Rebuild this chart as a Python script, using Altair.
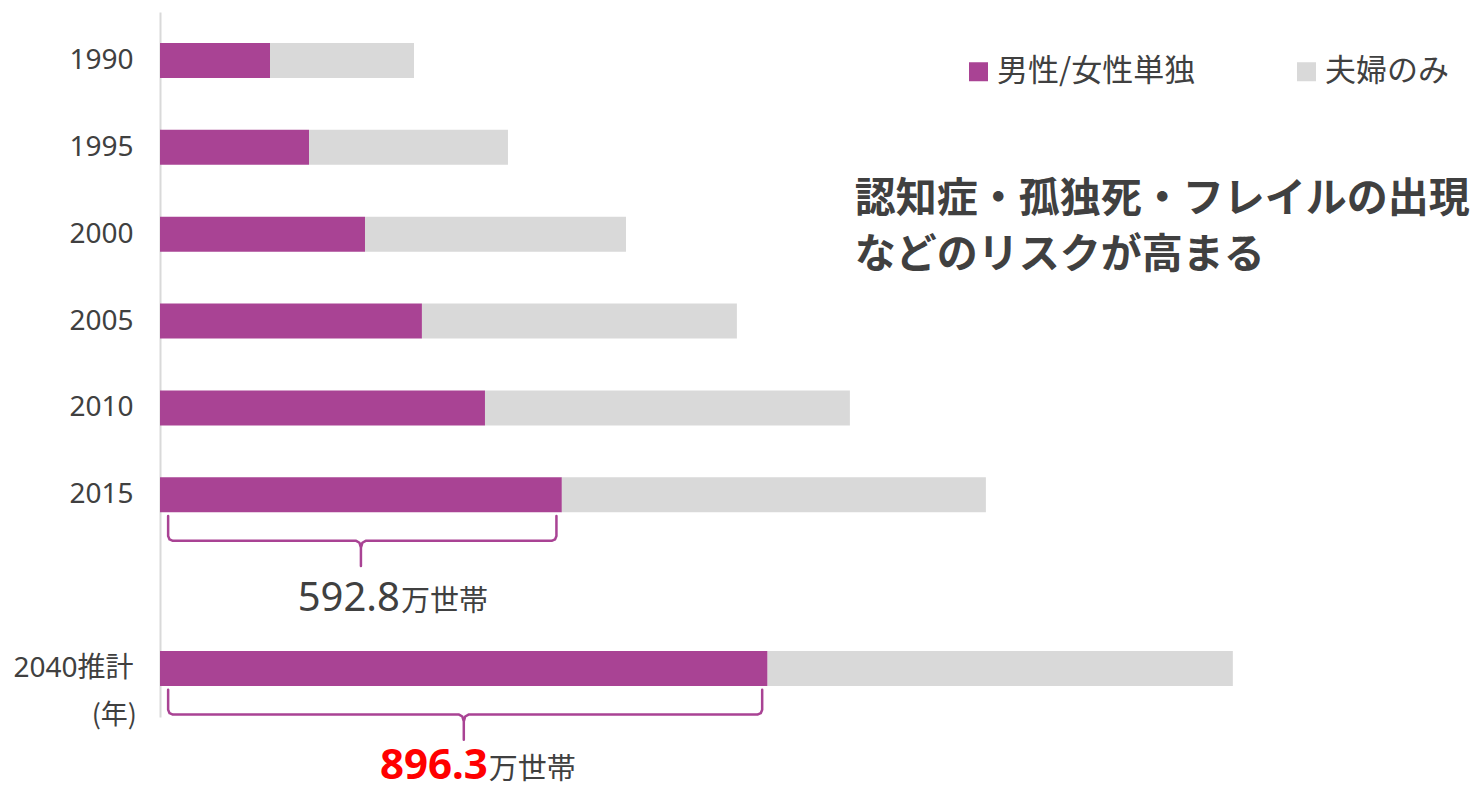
import altair as alt
import pandas as pd

# ---- data (万世帯) ----
years = ["1990", "1995", "2000", "2005", "2010", "2015", "2040推計"]
positions = [0, 1, 2, 3, 4, 5, 7]          # 2040 sits one empty row below 2015
single = [162.3, 219.8, 302.4, 386.4, 479.4, 592.8, 896.3]   # 男性/女性単独
couple = [212.4, 293.5, 385.0, 464.6, 538.3, 625.5, 686.3]   # 夫婦のみ
series = ["男性/女性単独", "夫婦のみ"]
colors = ["#A94394", "#D9D9D9"]

note_lines = ["認知症・孤独死・フレイルの出現", "などのリスクが高まる"]
brace_years = ["2015", "2040推計"]
brace_numbers = ["592.8", "896.3"]
unit_text = "万世帯"

MAG = "#A94394"
DARK = "#404040"
JP = "Noto Sans CJK JP"
LAT = "'Noto Sans', 'Noto Sans CJK JP', sans-serif"

rows = []
for y, p, s, c in zip(years, positions, single, couple):
    rows.append({"year": y, "pos": p, "cat": series[0], "ord": 0, "value": s})
    rows.append({"year": y, "pos": p, "cat": series[1], "ord": 1, "value": c})
bars_df = pd.DataFrame(rows)

xs = alt.Scale(domain=[0, 1900], nice=False, zero=True)
ys = alt.Scale(domain=[-0.5, 7.5], reverse=True, nice=False, zero=False)

y_enc = alt.Y(
    "pos:Q",
    scale=ys,
    axis=alt.Axis(
        values=positions,
        labelExpr="datum.value == 7 ? '2040推計' : toString(1990 + 5 * datum.value)",
        title=None,
        grid=False,
        ticks=False,
        domainColor="#D9D9D9",
        domainWidth=2,
        labelFont=LAT,
        labelFontSize=28,
        labelColor=DARK,
        labelPadding=27,
    ),
)

bars = alt.Chart(bars_df).mark_bar(size=35, orient="horizontal").encode(
    x=alt.X("value:Q", stack="zero", scale=xs, axis=None),
    y=y_enc,
    color=alt.Color(
        "cat:N",
        scale=alt.Scale(domain=series, range=colors),
        sort=series,
        legend=alt.Legend(
            title=None,
            orient="none",
            legendX=803,
            legendY=44,
            direction="horizontal",
            columns=2,
            columnPadding=95,
            padding=0,
            symbolType="square",
            symbolSize=361,
            symbolStrokeWidth=0,
            labelFont=JP,
            labelFontSize=31,
            labelColor=DARK,
            labelOffset=3,
            labelLimit=400,
        ),
    ),
    order=alt.Order("ord:Q"),
)

# ---- braces under the single-household bars of 2015 and 2040 ----
brace_rows = []
for g, yr in enumerate(brace_years):
    i = years.index(yr)
    v, p = single[i], positions[i]
    x0, x1, c = 12.0, v - 8.0, v / 2.0
    top, mid, tip = p + 0.245, p + 0.53, p + 0.82
    rx, ry = 7.0, 0.055
    pts = [
        (x0, top), (x0, mid - ry), (x0 + rx * 0.3, mid - ry * 0.3), (x0 + rx, mid),
        (c - rx, mid), (c - rx * 0.3, mid + ry * 0.4), (c, mid + ry * 1.4), (c, tip),
        (c, mid + ry * 1.4), (c + rx * 0.3, mid + ry * 0.4), (c + rx, mid),
        (x1 - rx, mid), (x1 - rx * 0.3, mid - ry * 0.3), (x1, mid - ry), (x1, top),
    ]
    for k, (bx, by) in enumerate(pts):
        brace_rows.append({"g": g, "k": k, "value": bx, "pos": by})
brace_df = pd.DataFrame(brace_rows)

braces = alt.Chart(brace_df).mark_line(
    color=MAG, strokeWidth=2.5, strokeCap="round", strokeJoin="round"
).encode(
    x=alt.X("value:Q", scale=xs, axis=None, stack=None),
    y=y_enc,
    detail="g:N",
    order="k:Q",
)

# ---- labels under the braces ----
lab_rows = []
for g, yr in enumerate(brace_years):
    i = years.index(yr)
    lab_rows.append({
        "g": g,
        "value": single[i] / 2.0,
        "pos": positions[i] + [1.34, 1.27][g],
        "num": brace_numbers[g],
        "unit": unit_text,
    })
lab_df = pd.DataFrame(lab_rows)

num_2015 = alt.Chart(lab_df[lab_df.g == 0]).mark_text(
    align="right", baseline="alphabetic", font=LAT, fontSize=40, color=DARK, dx=39
).encode(x=alt.X("value:Q", scale=xs, axis=None), y=y_enc, text="num:N")

num_2040 = alt.Chart(lab_df[lab_df.g == 1]).mark_text(
    align="right", baseline="alphabetic", font=LAT, fontSize=42, fontWeight="bold",
    color="#FF0000", dx=24
).encode(x=alt.X("value:Q", scale=xs, axis=None), y=y_enc, text="num:N")

unit_2015 = alt.Chart(lab_df[lab_df.g == 0]).mark_text(
    align="left", baseline="alphabetic", font=JP, fontSize=29, color=DARK, dx=40
).encode(x=alt.X("value:Q", scale=xs, axis=None), y=y_enc, text="unit:N")

unit_2040 = alt.Chart(lab_df[lab_df.g == 1]).mark_text(
    align="left", baseline="alphabetic", font=JP, fontSize=29, color=DARK, dx=25
).encode(x=alt.X("value:Q", scale=xs, axis=None), y=y_enc, text="unit:N")

# ---- "(年)" under the last axis label ----
nen_df = pd.DataFrame({"value": [0], "pos": [7.55], "t": ["(年)"]})
nen = alt.Chart(nen_df).mark_text(
    align="right", baseline="middle", font=JP, fontSize=27, color=DARK, dx=-23
).encode(x=alt.X("value:Q", scale=xs, axis=None), y=y_enc, text="t:N")

# ---- bold note ----
note_df = pd.DataFrame({"value": [1025, 1025], "pos": [1.61, 2.25], "t": note_lines})
note = alt.Chart(note_df).mark_text(
    align="left", baseline="middle", font=JP, fontSize=41, fontWeight="bold", color=DARK
).encode(x=alt.X("value:Q", scale=xs, axis=None), y=y_enc, text="t:N")

chart = (
    alt.layer(bars, braces, num_2015, num_2040, unit_2015, unit_2040, nen, note)
    .properties(
        width=1288,
        height=705,
        autosize=alt.AutoSizeParams(type="none"),
        padding={"left": 152, "top": 4, "right": 28, "bottom": 72},
        background="white",
    )
    .configure_view(stroke=None)
)

chart.save("out.html", embed_options={"renderer": "svg", "actions": False})
